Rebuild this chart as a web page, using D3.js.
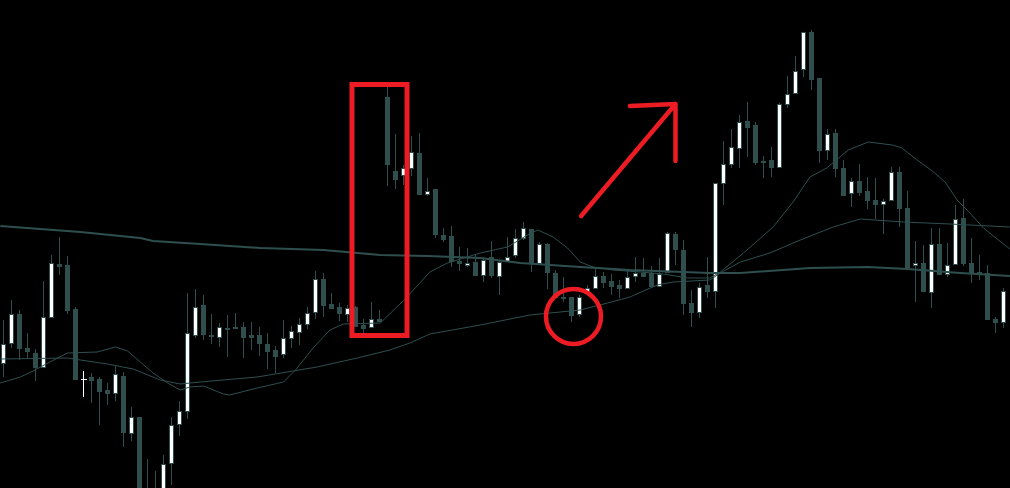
<!DOCTYPE html>
<html><head><meta charset="utf-8">
<script src="https://cdn.jsdelivr.net/npm/d3@7"></script>
<style>html,body{margin:0;padding:0;background:#000;overflow:hidden}</style>
</head><body><svg id="c" width="1010" height="488"></svg>
<script>
// ---- data (price units) ----
const opens = [137,157,186,152,147,133,183,236,235,191,
121,123,121,110,107,124,67,83,6,1,
2,37,76,89,165,195,165,163,172,173,
173,165,165,156,150,146,162,168,176,188,
221,196,193,186,193,175,173,181,403,329,
325,332,347,306,311,265,264,239,235,238,
225,243,224,239,245,262,271,237,256,227,
203,203,186,207,212,224,219,215,212,224,
227,227,214,228,266,250,197,188,215,209,
317,336,352,379,375,339,340,333,396,407,
431,468,422,350,367,332,307,319,309,300,
296,300,328,292,235,237,208,256,226,236,
282,237,228,227,181,178];
const highs = [180,200,190,167,151,219,245,263,244,193,
129,127,123,117,134,128,93,83,41,29,
45,83,99,207,211,205,186,177,185,187,
178,178,173,167,154,180,174,182,193,229,
227,207,197,195,194,181,198,190,413,366,
335,364,367,322,311,272,274,253,252,246,
243,259,239,263,271,278,271,258,257,230,
223,203,205,215,233,228,226,220,229,243,
242,234,242,268,268,260,210,217,243,317,
359,371,385,398,378,344,353,397,424,444,
468,470,422,371,371,340,322,336,323,322,
301,333,333,309,259,255,272,272,257,295,
301,262,245,235,183,212];
const lows = [123,152,140,142,119,132,183,225,186,121,
103,97,75,95,99,53,59,0,0,0,
0,15,64,81,162,160,156,153,143,172,
142,150,144,131,127,142,152,155,171,181,
183,192,179,178,174,167,172,179,314,311,
315,324,306,304,262,258,233,229,233,225,
218,222,205,239,242,260,228,235,211,203,
198,178,183,205,211,212,205,202,211,218,
224,214,214,228,235,185,173,182,202,192,
295,332,332,343,335,322,323,333,392,407,
423,410,337,340,323,304,293,304,291,281,
266,300,273,233,198,208,192,226,223,236,
234,217,220,181,167,172];
const closes = [156,186,152,149,133,183,237,234,190,121,
121,120,109,107,126,68,83,4,1,6,
36,75,89,167,193,166,164,173,171,172,
163,163,157,149,144,162,169,176,187,221,
195,192,187,192,174,172,181,179,336,321,
332,348,306,309,266,261,239,237,237,225,
240,225,238,243,262,272,237,256,228,203,
202,185,203,212,224,218,214,212,223,227,
224,214,226,267,251,197,188,213,209,317,
336,353,378,373,338,338,333,396,406,429,
468,421,350,366,332,305,319,308,300,296,
299,328,292,233,237,209,256,226,235,281,
237,227,227,181,178,209];

// moving averages: [bar position, value]
const maFast = [[-0.4,117],[2.1,123],[3.7,129],[5.8,138],[8,147],[11.7,148],[14,153],[15.5,149],
[17.1,138],[18.7,127],[20.5,117],[22.1,110],[23.3,113],[25,114],[27.5,106],[28.3,105],[31.7,112],
[35,118],[36.5,130],[38.7,152],[40.8,170],[42.5,176],[47.1,177],[50.2,201],[53.3,228],[55.5,237],
[59.6,247],[63,253],[65.5,265],[66.8,270],[68.7,263],[70.5,252],[72.1,238],[73.7,233],[76.2,230],
[79.6,228],[82.5,226],[85.5,222],[88.3,222],[89.6,228],[92.5,247],[96.2,273],[98.7,298],[100.8,323],
[102.9,332],[105.6,350],[108.1,358],[111.1,355],[112.3,352],[114.2,340],[116.1,329],[117.7,318],
[119.2,300],[120.8,287],[122.5,272],[124.2,261],[125.8,251]];
const maMid = [[-0.4,141],[8,142],[9.6,140],[13,136],[16.2,131],[19.6,120],[22.1,116],[24.6,118],
[31.7,123],[39.2,133],[44.2,142],[48.3,150],[50.8,157],[53.3,166],[59.6,175],[65.8,185],[72.1,190],
[75.5,197],[78.3,203],[81.7,215],[83.7,218],[88.3,220],[89.6,227],[92.1,238],[95.8,247],[99.6,260],
[103.7,273],[107.1,281],[112.5,278],[118.3,276],[125.8,273]];
const maSlow = [[-0.4,274],[4.6,271],[9.6,268],[17.1,262],[18.7,259],[24.6,256],[32.1,252],[40,250],
[47.1,245],[53,244],[59.6,242],[64.6,237],[72.1,233],[78.3,230],[88.3,227],[92.1,227],[100.8,232],
[108,233],[113,231],[119.6,227],[125.8,224]];

// annotations (bar position / price)
const noteBox = {i0:43.56, i1:50.44, lo:164.5, hi:415.5};
const noteCircle = {i:71.25, v:183.5, r:27.5};
const noteArrow = {from:[72.2,284], tip:[84.0,396], headLeft:[78.3,394], headDown:[84.0,339]};

// ---- drawing ----
const W = 1010, H = 488;
const svg = d3.select('#c');
svg.append('rect').attr('width',W).attr('height',H).attr('fill','#000');
const x = d3.scaleLinear().domain([0,125]).range([3.5,1003.5]);
const y = d3.scaleLinear().domain([0,500]).range([500,0]);
const teal = '#2f4f4f';

const bars = opens.map((o,i)=>({i,o,h:highs[i],l:lows[i],c:closes[i]}));
const g = svg.append('g');
bars.forEach(d=>{
  const cx = x(d.i);
  const doji = d.o===d.c;
  const bull = d.c>d.o;
  const col = doji ? '#fff' : teal;
  g.append('line').attr('x1',cx).attr('x2',cx)
    .attr('y1',Math.round(y(d.h))).attr('y2',Math.round(y(d.l)))
    .attr('stroke',col).attr('stroke-width',1);
  const top = Math.round(y(Math.max(d.o,d.c)));
  const bot = Math.round(y(Math.min(d.o,d.c)));
  if (doji){
    g.append('line').attr('x1',cx-2.5).attr('x2',cx+3.5).attr('y1',top+0.5).attr('y2',top+0.5)
      .attr('stroke','#fff').attr('stroke-width',1);
  } else {
    g.append('rect').attr('x',cx-2).attr('width',4)
      .attr('y',top+0.5).attr('height',Math.max(1,bot-top))
      .attr('fill',bull?'#fff':teal).attr('stroke',teal).attr('stroke-width',1);
  }
});

const line = d3.line().x(d=>x(d[0])).y(d=>y(d[1]));
svg.append('path').datum(maSlow).attr('d',line).attr('fill','none').attr('stroke',teal).attr('stroke-width',2);
svg.append('path').datum(maMid).attr('d',line).attr('fill','none').attr('stroke',teal).attr('stroke-width',1);
svg.append('path').datum(maFast).attr('d',line).attr('fill','none').attr('stroke',teal).attr('stroke-width',1);

const red = '#ed1c24';
svg.append('rect')
  .attr('x',x(noteBox.i0)).attr('y',y(noteBox.hi))
  .attr('width',x(noteBox.i1)-x(noteBox.i0)).attr('height',y(noteBox.lo)-y(noteBox.hi))
  .attr('fill','none').attr('stroke',red).attr('stroke-width',5);
svg.append('circle').attr('cx',x(noteCircle.i)).attr('cy',y(noteCircle.v)).attr('r',noteCircle.r)
  .attr('fill','none').attr('stroke',red).attr('stroke-width',4.5);
const P = p=>[x(p[0]),y(p[1])];
svg.append('path')
  .attr('d',`M${P(noteArrow.from)}L${P(noteArrow.tip)}M${P(noteArrow.headLeft)}L${P(noteArrow.tip)}L${P(noteArrow.headDown)}`)
  .attr('fill','none').attr('stroke',red).attr('stroke-width',4.5)
  .attr('stroke-linecap','round').attr('stroke-linejoin','round');
</script></body></html>
